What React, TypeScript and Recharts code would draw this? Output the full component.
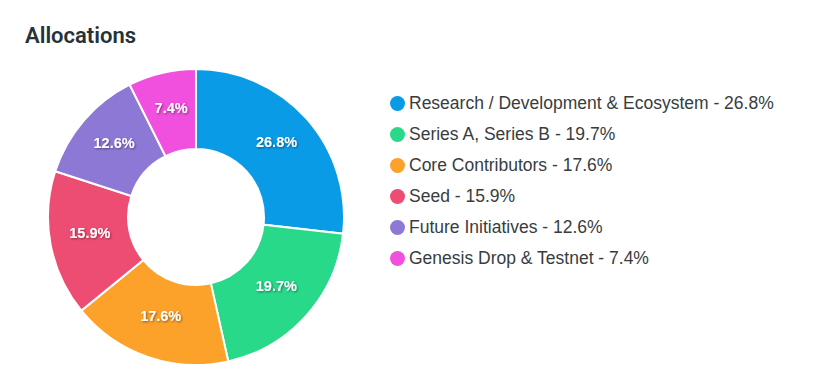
import React from 'react';
import { PieChart, Pie, Cell, Legend } from 'recharts';

const categories = [
  'Research / Development & Ecosystem',
  'Series A, Series B',
  'Core Contributors',
  'Seed',
  'Future Initiatives',
  'Genesis Drop & Testnet',
];
const shares = [26.8, 19.7, 17.6, 15.9, 12.6, 7.4];
const colors = ['#0A9BE6', '#28D98A', '#FCA12A', '#EE4D73', '#8E78D6', '#F14FDE'];

const data = categories.map((name, i) => ({ name, value: shares[i] }));

const RADIAN = Math.PI / 180;

const renderLabel = (props: any) => {
  const { cx, cy, midAngle, innerRadius, outerRadius, index } = props;
  const r = (innerRadius + outerRadius) / 2;
  const x = cx + r * Math.cos(-midAngle * RADIAN);
  const y = cy + r * Math.sin(-midAngle * RADIAN) - 3.5;
  return (
    <g>
      <defs>
        <filter id={`ds${index}`} x="-50%" y="-50%" width="200%" height="200%">
          <feDropShadow dx="1" dy="1" stdDeviation="1" floodColor="#000" floodOpacity="0.45" />
        </filter>
      </defs>
      <text
        x={x}
        y={y}
        fill="#fff"
        textAnchor="middle"
        dominantBaseline="central"
        fontFamily="'Liberation Sans', Arial, sans-serif"
        fontWeight="bold"
        fontSize={14.5}
        filter={`url(#ds${index})`}
      >
        {`${shares[index]}%`}
      </text>
    </g>
  );
};

const LegendList = () => (
  <div>
    {categories.map((c, i) => (
      <div key={c} style={{ display: 'flex', alignItems: 'center', height: 31 }}>
        <span
          style={{
            width: 15,
            height: 15,
            borderRadius: '50%',
            background: colors[i],
            marginRight: 4,
            flexShrink: 0,
          }}
        />
        <span
          style={{
            fontFamily: "'Liberation Sans', Arial, sans-serif",
            fontSize: 17.5,
            color: '#373d3f',
            whiteSpace: 'nowrap',
          }}
        >
          {`${c} - ${shares[i]}%`}
        </span>
      </div>
    ))}
  </div>
);

export default function App() {
  return (
    <div style={{ position: 'absolute', left: 0, top: 0, width: 814, height: 392, background: '#fff' }}>
      <div
        style={{
          position: 'absolute',
          left: 25,
          top: 23,
          fontFamily: 'Roboto, sans-serif',
          fontWeight: 600,
          fontSize: 22,
          color: '#263238',
        }}
      >
        Allocations
      </div>
      <PieChart width={814} height={392} margin={{ top: 0, right: 0, bottom: 0, left: 0 }}>
        <Pie
          data={data}
          dataKey="value"
          nameKey="name"
          cx={196}
          cy={217}
          innerRadius={68}
          outerRadius={148}
          startAngle={90}
          endAngle={-270}
          stroke="#fff"
          strokeWidth={2}
          label={renderLabel}
          labelLine={false}
          isAnimationActive={false}
        >
          {data.map((d, i) => (
            <Cell key={d.name} fill={colors[i]} />
          ))}
        </Pie>
        <Legend
          content={<LegendList />}
          layout="vertical"
          wrapperStyle={{ left: 390, top: 88, width: 420 }}
        />
      </PieChart>
    </div>
  );
}
